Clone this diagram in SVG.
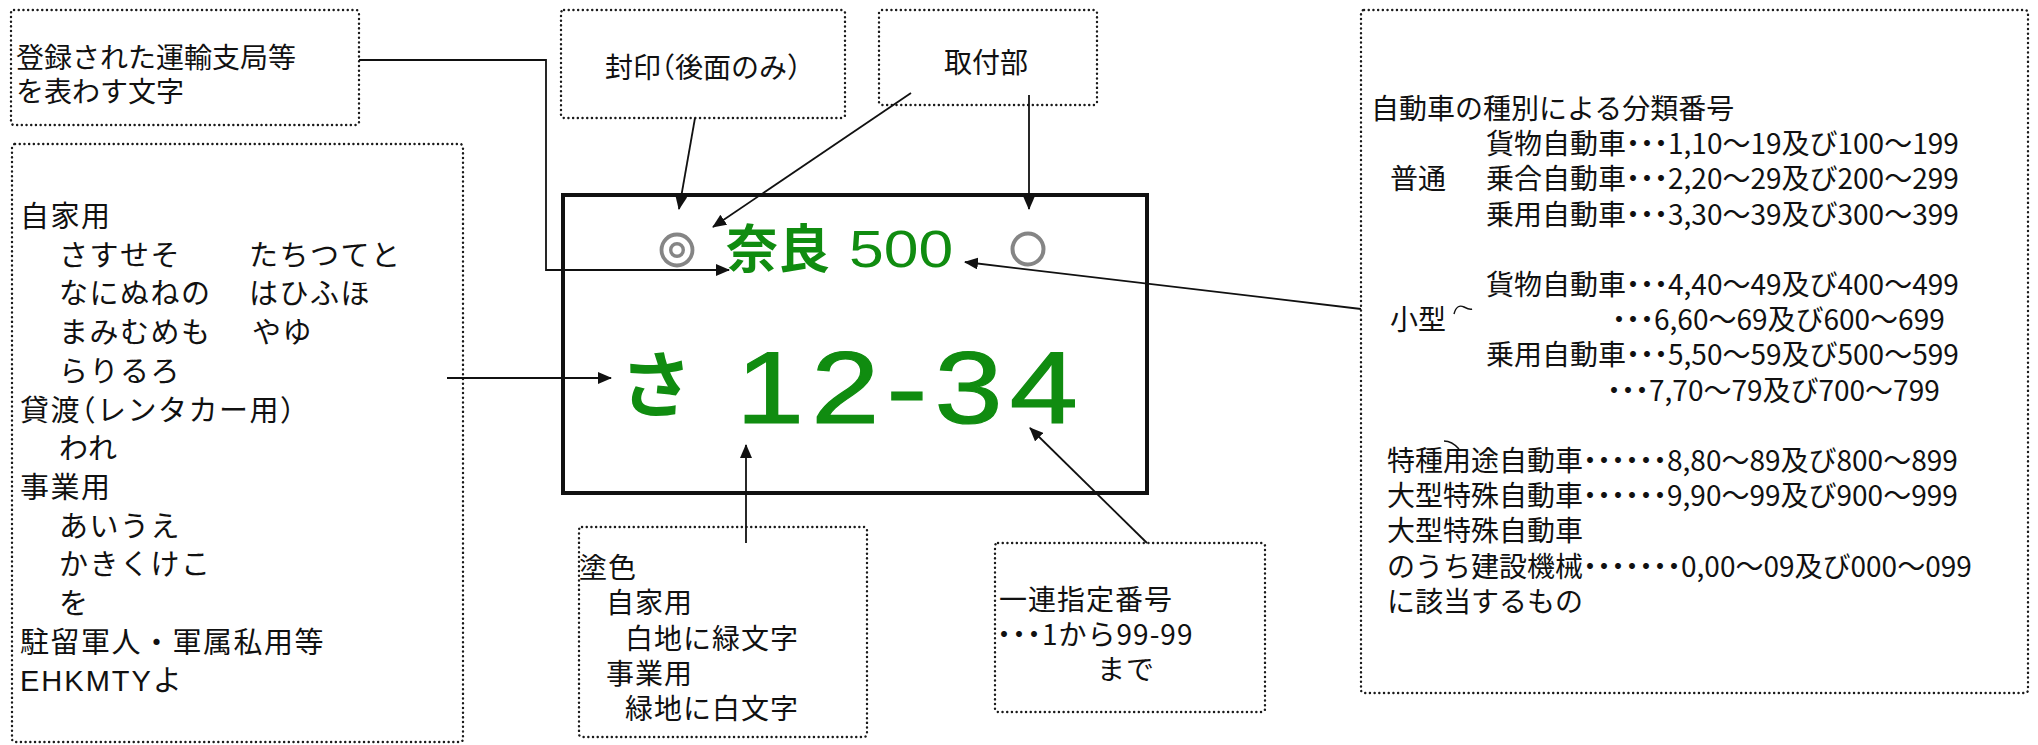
<svg xmlns="http://www.w3.org/2000/svg" width="2038" height="745" viewBox="0 0 2038 745">
<style>
.bx{fill:none;stroke:#1a1a1a;stroke-width:2.4;stroke-linecap:round;stroke-dasharray:0.1 4.6}
.t{font-family:"Noto Sans CJK JP","Noto Sans CJK SC",sans-serif;font-size:28px;fill:#111}
.l{font-size:29px;letter-spacing:1.5px}
.h{font-feature-settings:"halt"}
.lat{font-family:"Liberation Sans",Arial,sans-serif;letter-spacing:2px}
.c{fill:none;stroke:#111;stroke-width:1.8}
.g{fill:#108c10}
.ring{fill:none;stroke:#858585}
</style>
<defs>
<marker id="arr" markerWidth="14" markerHeight="12" refX="13" refY="6" orient="auto" markerUnits="userSpaceOnUse">
<path d="M0,0 L14,6 L0,12 z" fill="#111"/>
</marker>
</defs>
<rect width="2038" height="745" fill="#fff"/>

<g id="office">
<rect class="bx" x="11" y="10" width="348" height="115" rx="3"/>
<text class="t"><tspan x="16" y="68">登録された運輸支局等</tspan><tspan x="16" y="102">を表わす文字</tspan></text>
</g>

<g id="seal">
<rect class="bx" x="561" y="10" width="284" height="108" rx="3"/>
<text class="t" x="703" y="78" text-anchor="middle">封印<tspan class="h">（</tspan>後面のみ<tspan class="h">）</tspan></text>
</g>

<g id="mount">
<rect class="bx" x="879" y="10" width="218" height="95" rx="3"/>
<text class="t" x="986" y="73" text-anchor="middle">取付部</text>
</g>

<g id="hiragana">
<rect class="bx" x="12" y="144" width="451" height="598" rx="3"/>
<text class="t l">
<tspan x="20" y="227">自家用</tspan>
<tspan x="59" y="265.7">さすせそ</tspan><tspan x="249" y="265.7">たちつてと</tspan>
<tspan x="59" y="304.4">なにぬねの</tspan><tspan x="249" y="304.4">はひふほ</tspan>
<tspan x="59" y="343.1">まみむめも</tspan><tspan x="252" y="343.1">やゆ</tspan>
<tspan x="59" y="381.8">らりるろ</tspan>
<tspan x="20" y="420.5">貸渡<tspan class="h">（</tspan>レンタカー用<tspan class="h">）</tspan></tspan>
<tspan x="59" y="459.2">われ</tspan>
<tspan x="20" y="497.9">事業用</tspan>
<tspan x="59" y="536.6">あいうえ</tspan>
<tspan x="59" y="575.3">かきくけこ</tspan>
<tspan x="59" y="614">を</tspan>
<tspan x="20" y="652.7">駐留軍人・軍属私用等</tspan>
<tspan x="20" y="691.4"><tspan class="lat">EHKMTY</tspan>よ</tspan>
</text>
</g>

<g id="plate">
<rect x="563" y="195" width="584" height="298" fill="#fff" stroke="#111" stroke-width="4"/>
<circle class="ring" cx="677" cy="250" r="15.5" stroke-width="3.8"/>
<circle class="ring" cx="677" cy="250" r="6.3" stroke-width="3.4"/>
<circle class="ring" cx="1028" cy="249" r="15.5" stroke-width="4"/>
<text class="g" x="726" y="268" font-family="'Noto Sans CJK JP','Noto Sans CJK SC',sans-serif" font-size="52" font-weight="bold">奈良</text>
<text class="g" transform="translate(849,267) scale(1.2,1)" x="0" y="0" font-family="'Liberation Sans',Arial,sans-serif" font-size="52">500</text>
<text class="g" x="620" y="411" font-family="'Noto Sans CJK JP','Noto Sans CJK SC',sans-serif" font-size="72" font-weight="bold">さ</text>
<text class="g" transform="translate(736,423) scale(1.2,1)" x="0" y="0" font-family="'Liberation Sans',Arial,sans-serif" font-size="102" letter-spacing="6" stroke="#108c10" stroke-width="1.2">12-34</text>
</g>

<g id="paint">
<rect class="bx" x="579" y="527" width="288" height="210" rx="3"/>
<text class="t" letter-spacing="1">
<tspan x="579" y="578">塗色</tspan>
<tspan x="606" y="613.3">自家用</tspan>
<tspan x="625" y="648.6">白地に緑文字</tspan>
<tspan x="606" y="684">事業用</tspan>
<tspan x="625" y="719">緑地に白文字</tspan>
</text>
</g>

<g id="serial">
<rect class="bx" x="995" y="543" width="270" height="169" rx="3"/>
<text class="t" letter-spacing="1">
<tspan x="999" y="610">一連指定番号</tspan>
<tspan x="997" y="645"><tspan class="h">・・・</tspan>1から99-99</tspan>
<tspan x="1097" y="680">まで</tspan>
</text>
</g>

<g id="classification">
<rect class="bx" x="1361" y="10" width="667" height="683" rx="3"/>
<text class="t">
<tspan x="1371" y="119">自動車の種別による分類番号</tspan>
<tspan x="1486" y="154.2">貨物自動車<tspan class="h">・・・</tspan>1,10～19及び100～199</tspan>
<tspan x="1390" y="189.4">普通</tspan><tspan x="1486" y="189.4">乗合自動車<tspan class="h">・・・</tspan>2,20～29及び200～299</tspan>
<tspan x="1486" y="224.6">乗用自動車<tspan class="h">・・・</tspan>3,30～39及び300～399</tspan>
<tspan x="1486" y="295">貨物自動車<tspan class="h">・・・</tspan>4,40～49及び400～499</tspan>
<tspan x="1390" y="330.2">小型</tspan><tspan x="1612" y="330.2"><tspan class="h">・・・</tspan>6,60～69及び600～699</tspan>
<tspan x="1486" y="365.4">乗用自動車<tspan class="h">・・・</tspan>5,50～59及び500～599</tspan>
<tspan x="1607" y="400.6"><tspan class="h">・・・</tspan>7,70～79及び700～799</tspan>
<tspan x="1387" y="471">特種用途自動車<tspan class="h">・・・・・・</tspan>8,80～89及び800～899</tspan>
<tspan x="1387" y="506.2">大型特殊自動車<tspan class="h">・・・・・・</tspan>9,90～99及び900～999</tspan>
<tspan x="1387" y="541.4">大型特殊自動車</tspan>
<tspan x="1387" y="576.6">のうち建設機械<tspan class="h">・・・・・・・</tspan>0,00～09及び000～099</tspan>
<tspan x="1387" y="611.8">に該当するもの</tspan>
</text>
<path d="M1454,314 C1456,306 1460,305 1464,307 S1470,310 1472,309" fill="none" stroke="#111" stroke-width="1.4"/>
<path d="M1444,441 Q1452,441 1459,449" fill="none" stroke="#111" stroke-width="1.4"/>
</g>

<g id="connectors">
<path class="c" d="M359,60 H546 V270 H729" marker-end="url(#arr)"/>
<path class="c" d="M695,118 L679,209" marker-end="url(#arr)"/>
<path class="c" d="M911,93 L713,227" marker-end="url(#arr)"/>
<path class="c" d="M1029,95 V209" marker-end="url(#arr)"/>
<path class="c" d="M1361,309 L965,262" marker-end="url(#arr)"/>
<path class="c" d="M447,378 H611" marker-end="url(#arr)"/>
<path class="c" d="M746,543 V445" marker-end="url(#arr)"/>
<path class="c" d="M1147,543 L1030,428" marker-end="url(#arr)"/>
</g>
</svg>
